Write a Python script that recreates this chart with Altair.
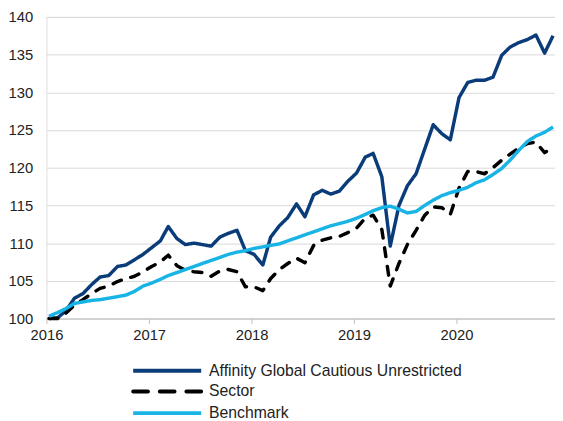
import altair as alt
import pandas as pd

# ---- data -------------------------------------------------------------
months = [f"{2016 + i // 12}-{i % 12 + 1:02d}-10" for i in range(60)]

fund = [100.0, 100.1, 101.0, 102.7, 103.3, 104.5, 105.5, 105.7, 106.9, 107.1,
        107.8, 108.5, 109.4, 110.3, 112.2, 110.6, 109.8, 110.0, 109.8, 109.6,
        110.8, 111.3, 111.7, 109.0, 108.5, 107.1, 110.8, 112.3, 113.4, 115.2,
        113.5, 116.4, 117.0, 116.5, 116.9, 118.2, 119.3, 121.4, 121.9, 118.8,
        109.6, 115.0, 117.6, 119.2, 122.5, 125.7, 124.5, 123.7, 129.3, 131.3,
        131.6, 131.6, 132.0, 134.9, 136.0, 136.6, 137.0, 137.6, 135.2, 137.5]

sector = [100.0, 100.0, 100.7, 101.8, 102.5, 103.3, 104.0, 104.3, 104.9, 105.3,
          105.6, 106.2, 106.9, 107.5, 108.4, 107.0, 106.4, 106.2, 106.1, 105.6,
          106.3, 106.5, 106.2, 104.2, 104.2, 103.7, 105.3, 106.5, 107.3, 108.0,
          107.4, 109.7, 110.4, 110.7, 110.9, 111.4, 112.0, 113.3, 113.7, 111.8,
          104.3, 107.3, 109.8, 111.7, 113.7, 114.8, 114.7, 113.8, 117.3, 119.5,
          119.5, 119.2, 120.0, 121.0, 121.8, 122.6, 123.2, 123.4, 122.0, 122.7]

benchmark = [100.3, 100.8, 101.3, 102.0, 102.2, 102.4, 102.5, 102.7, 102.9, 103.1,
             103.6, 104.3, 104.7, 105.2, 105.7, 106.1, 106.5, 106.9, 107.3, 107.7,
             108.1, 108.5, 108.8, 109.0, 109.3, 109.5, 109.7, 109.9, 110.3, 110.7,
             111.1, 111.5, 111.9, 112.3, 112.6, 112.9, 113.3, 113.8, 114.3, 114.7,
             114.9, 114.5, 114.0, 114.2, 115.0, 115.7, 116.3, 116.7, 117.0, 117.4,
             118.0, 118.4, 119.1, 119.9, 121.0, 122.3, 123.5, 124.2, 124.7, 125.4]

series_names = ["Affinity Global Cautious Unrestricted", "Sector", "Benchmark"]
series_values = [fund, sector, benchmark]
year_ticks = [2016, 2017, 2018, 2019, 2020]
y_ticks = [100, 105, 110, 115, 120, 125, 130, 135, 140]

# ---- style ------------------------------------------------------------
FONT = "Liberation Sans"
TEXT = "#222222"
colors = ["#0b3c7a", "#000000", "#18b4e6"]
dashes = [[1, 0], [9, 10], [1, 0]]
legend_dashes = [[1, 0], [15, 12], [1, 0]]
legend_y = [359, 380, 402]

frames = []
for name, vals in zip(series_names, series_values):
    frames.append(pd.DataFrame({"date": months, "value": vals, "series": name}))
df = pd.concat(frames, ignore_index=True)

x_enc = alt.X(
    "date:T",
    scale=alt.Scale(type="utc",
                    domain=[alt.DateTime(year=2016, month=1, date=1, utc=True),
                            alt.DateTime(year=2020, month=12, date=17, utc=True)]),
    axis=alt.Axis(title=None, format="%Y", formatType="utc",
                  values=[alt.DateTime(year=y, month=1, date=1, utc=True) for y in year_ticks],
                  grid=False, domainColor="#bfbfbf", tickColor="#bfbfbf",
                  tickSize=5, labelPadding=4, labelFont=FONT, labelFontSize=15,
                  labelColor=TEXT, labelFlush=False),
)
y_enc = alt.Y(
    "value:Q",
    scale=alt.Scale(domain=[100, 140], nice=False, zero=False),
    axis=alt.Axis(title=None, values=y_ticks, domain=False, ticks=False,
                  labelPadding=14, gridColor="#d9d9d9", gridWidth=1,
                  labelFont=FONT, labelFontSize=15, labelColor=TEXT),
)

layers = []
for name, col, dash in zip(series_names, colors, dashes):
    layers.append(
        alt.Chart(df).transform_filter(alt.datum.series == name)
        .mark_line(color=col, strokeWidth=3.5, strokeDash=dash,
                   strokeCap="round" if dash[1] else "butt", strokeJoin="round")
        .encode(x=x_enc, y=y_enc)
    )

for name, col, dash, ly in zip(series_names, colors, legend_dashes, legend_y):
    leg = pd.DataFrame({"series": [name]})
    layers.append(
        alt.Chart(leg).mark_rule(color=col, strokeWidth=4, strokeDash=dash,
                                 strokeCap="round" if dash[1] else "butt")
        .encode(x=alt.value(88), x2=alt.value(157), y=alt.value(ly))
    )
    layers.append(
        alt.Chart(leg).mark_text(align="left", baseline="middle", font=FONT,
                                 fontSize=16, color=TEXT)
        .encode(x=alt.value(165), y=alt.value(ly), text="series:N")
    )

chart = (
    alt.layer(*layers)
    .properties(width=516, height=306,
                autosize=alt.AutoSizeParams(type="none"),
                padding={"left": 39, "top": 6, "right": 0, "bottom": 106})
    .configure_view(stroke=None)
    .configure(background="white")
)

chart.save("out.html", embed_options={"renderer": "svg", "actions": False})
